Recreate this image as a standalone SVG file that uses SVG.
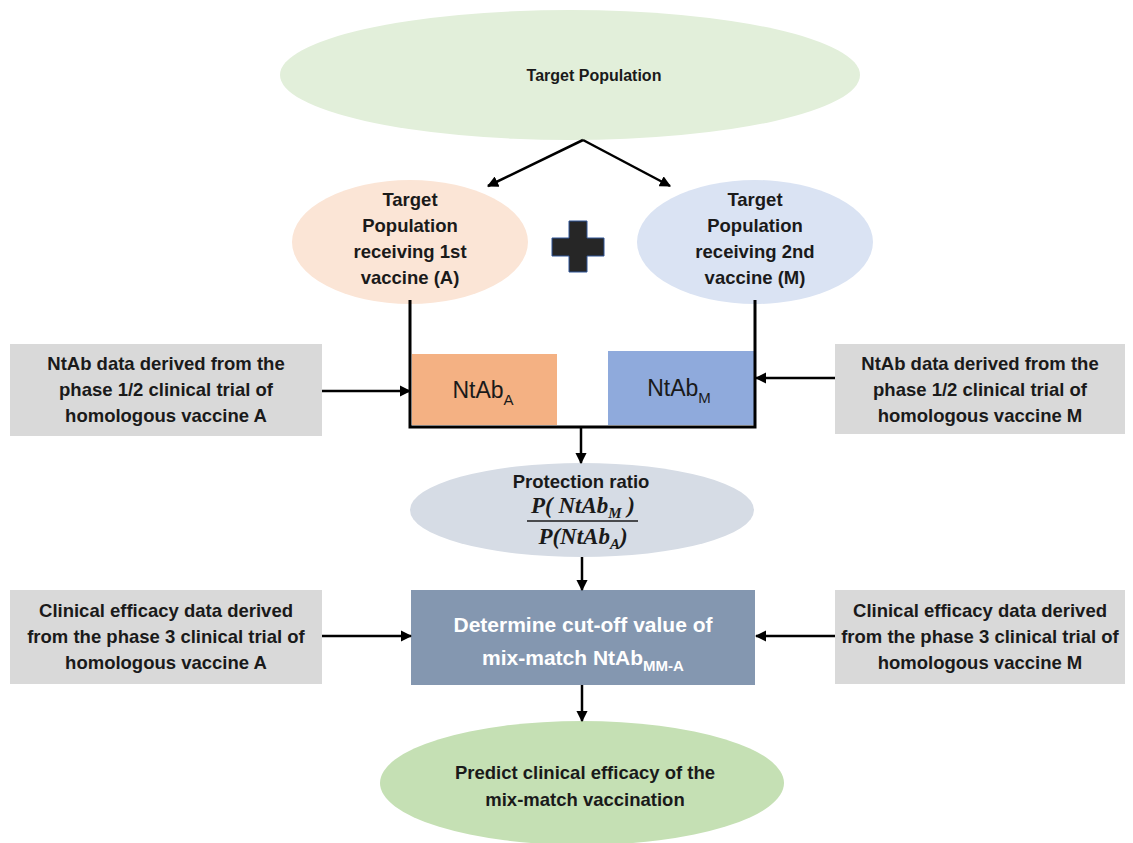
<svg xmlns="http://www.w3.org/2000/svg" width="1133" height="843" viewBox="0 0 1133 843">
<defs>
<marker id="ah" viewBox="0 0 10 10" refX="9" refY="5" markerWidth="4.5" markerHeight="4.5" orient="auto" markerUnits="strokeWidth">
<path d="M0,0 L10,5 L0,10 z" fill="#000"/>
</marker>
<style>
.t{font-family:"Liberation Sans",Arial,sans-serif;font-weight:bold;font-size:18.5px;fill:#1a1a1a;text-anchor:middle}
.s{font-size:16px}
.w{fill:#ffffff;font-size:21px}
.n{font-family:"Liberation Sans",Arial,sans-serif;font-size:23px;fill:#1a1a1a;text-anchor:middle}
.m{font-family:"Liberation Serif","Times New Roman",serif;font-style:italic;font-weight:bold;font-size:23px;fill:#1a1a1a;text-anchor:middle}
.c{stroke:#000;stroke-width:3;fill:none}
.a{stroke:#000;stroke-width:2.5;fill:none;marker-end:url(#ah)}
.g{fill:#d9d9d9}
</style>
</defs>
<rect width="1133" height="843" fill="#fff"/>

<g id="target">
<ellipse cx="570" cy="75" rx="290" ry="65" fill="#e2efda"/>
<text class="t s" x="594" y="81">Target Population</text>
</g>

<g id="popA">
<ellipse cx="410" cy="242" rx="118" ry="62" fill="#fbe5d6"/>
<text class="t" x="410" y="206">Target</text>
<text class="t" x="410" y="232">Population</text>
<text class="t" x="410" y="258">receiving 1st</text>
<text class="t" x="410" y="284">vaccine (A)</text>
</g>

<g id="plus">
<path d="M569,221 H587 V238 H604 V256 H587 V272 H569 V256 H552 V238 H569 Z" fill="#262626" stroke="#2f5597" stroke-width="1"/>
</g>

<g id="popM">
<ellipse cx="755" cy="242" rx="118" ry="62" fill="#dae3f3"/>
<text class="t" x="755" y="206">Target</text>
<text class="t" x="755" y="232">Population</text>
<text class="t" x="755" y="258">receiving 2nd</text>
<text class="t" x="755" y="284">vaccine (M)</text>
</g>

<g id="ntabA">
<rect x="412" y="354" width="145" height="71" fill="#f4b183"/>
<text class="n" x="483" y="398">NtAb<tspan font-size="15" dy="7">A</tspan></text>
</g>

<g id="ntabM">
<rect x="608" y="351" width="146" height="74" fill="#8faadc"/>
<text class="n" x="679" y="396">NtAb<tspan font-size="15" dy="7">M</tspan></text>
</g>

<g id="dataA">
<rect class="g" x="10" y="344" width="312" height="92"/>
<text class="t" x="166" y="370">NtAb data derived from the</text>
<text class="t" x="166" y="396">phase 1/2 clinical trial of</text>
<text class="t" x="166" y="422">homologous vaccine A</text>
</g>

<g id="dataM">
<rect class="g" x="835" y="344" width="290" height="90"/>
<text class="t" x="980" y="370">NtAb data derived from the</text>
<text class="t" x="980" y="396">phase 1/2 clinical trial of</text>
<text class="t" x="980" y="422">homologous vaccine M</text>
</g>

<g id="ratio">
<ellipse cx="582" cy="510" rx="172" ry="47" fill="#d6dce5"/>
<text class="t" x="581" y="488">Protection ratio</text>
<text class="m" x="583" y="513">P( NtAb<tspan font-size="15" dy="5">M</tspan><tspan dy="-5"> )</tspan></text>
<line x1="527" y1="521" x2="638" y2="521" stroke="#1a1a1a" stroke-width="1.3"/>
<text class="m" x="583" y="544">P(NtAb<tspan font-size="15" dy="5">A</tspan><tspan dy="-5">)</tspan></text>
</g>

<g id="cutoff">
<rect x="411" y="590" width="344" height="95" fill="#8497b0"/>
<text class="t w" x="583" y="632">Determine cut-off value of</text>
<text class="t w" x="583" y="665">mix-match NtAb<tspan font-size="15" dy="6">MM-A</tspan></text>
</g>

<g id="effA">
<rect class="g" x="10" y="590" width="312" height="94"/>
<text class="t" x="166" y="617">Clinical efficacy data derived</text>
<text class="t" x="166" y="643">from the phase 3 clinical trial of</text>
<text class="t" x="166" y="669">homologous vaccine A</text>
</g>

<g id="effM">
<rect class="g" x="835" y="590" width="290" height="94"/>
<text class="t" x="980" y="617">Clinical efficacy data derived</text>
<text class="t" x="980" y="643">from the phase 3 clinical trial of</text>
<text class="t" x="980" y="669">homologous vaccine M</text>
</g>

<g id="predict">
<ellipse cx="582" cy="783" rx="202" ry="62" fill="#c5e0b4"/>
<text class="t" x="585" y="779">Predict clinical efficacy of the</text>
<text class="t" x="585" y="806">mix-match vaccination</text>
</g>

<g id="connectors">
<path class="a" d="M583,140 L488,186"/>
<path class="a" d="M583,140 L670,186"/>
<path class="c" d="M410,300 V427 H755 V300"/>
<path class="a" d="M322,391 H410"/>
<path class="a" d="M835,378 H756"/>
<path class="a" d="M581,427 V463"/>
<path class="a" d="M582,557 V590"/>
<path class="a" d="M322,636 H411"/>
<path class="a" d="M835,636 H756"/>
<path class="a" d="M582,685 V721"/>
</g>
</svg>
